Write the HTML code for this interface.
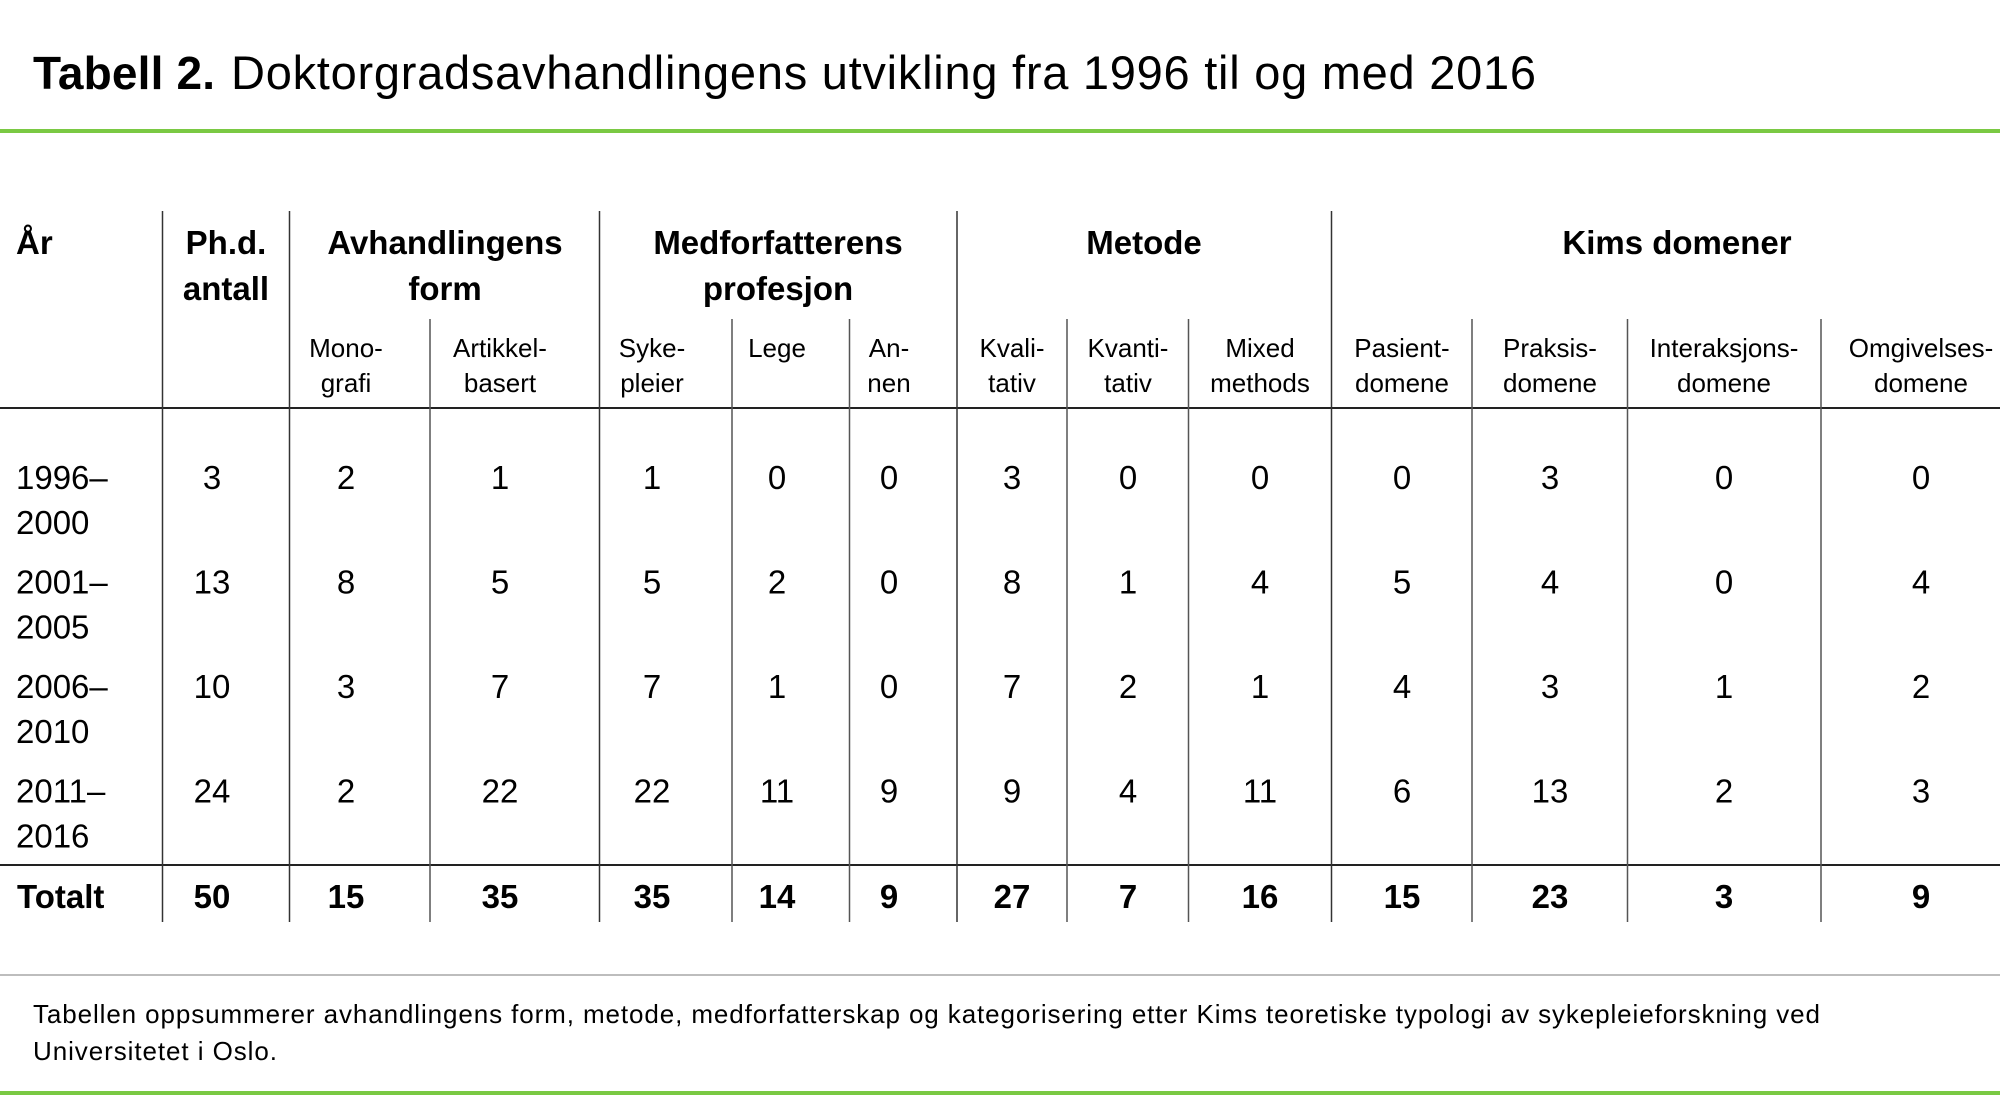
<!DOCTYPE html>
<html>
<head>
<meta charset="utf-8">
<style>
  html,body{margin:0;padding:0;background:#fff;}
  svg{display:block;}
  text{font-family:"Liberation Sans",Arial,sans-serif;fill:#000;}
  .h{font-size:33px;font-weight:bold;}
  .s{font-size:26px;}
  .d{font-size:33px;}
  .t{font-size:33px;font-weight:bold;}
</style>
</head>
<body>
<svg width="2000" height="1110" viewBox="0 0 2000 1110" xmlns="http://www.w3.org/2000/svg">
  <rect x="0" y="0" width="2000" height="1110" fill="#fff"/>

  <!-- Title -->
  <text x="33" y="89" font-size="46" font-weight="bold" textLength="182">Tabell 2.</text>
  <text x="231" y="89" font-size="47" textLength="1305">Doktorgradsavhandlingens utvikling fra 1996 til og med 2016</text>

  <!-- green rules -->
  <rect x="0" y="129" width="2000" height="4" fill="#7ac943"/>
  <rect x="0" y="1091" width="2000" height="4" fill="#7ac943"/>

  <!-- grey rule -->
  <rect x="0" y="974" width="2000" height="2" fill="#bdbdbd"/>

  <!-- horizontal table rules -->
  <rect x="0" y="407" width="2000" height="2" fill="#222"/>
  <rect x="0" y="864" width="2000" height="2" fill="#222"/>

  <!-- vertical lines: group (full height) -->
  <g stroke="#333" stroke-width="1.5">
    <line x1="162.5" y1="211" x2="162.5" y2="922"/>
    <line x1="289.5" y1="211" x2="289.5" y2="922"/>
    <line x1="599.5" y1="211" x2="599.5" y2="922"/>
    <line x1="957" y1="211" x2="957" y2="922"/>
    <line x1="1331.5" y1="211" x2="1331.5" y2="922"/>
  </g>
  <g stroke="#555" stroke-width="1.5">
    <line x1="430" y1="319" x2="430" y2="922"/>
    <line x1="732" y1="319" x2="732" y2="922"/>
    <line x1="849.5" y1="319" x2="849.5" y2="922"/>
    <line x1="1067" y1="319" x2="1067" y2="922"/>
    <line x1="1188.5" y1="319" x2="1188.5" y2="922"/>
    <line x1="1472" y1="319" x2="1472" y2="922"/>
    <line x1="1627.5" y1="319" x2="1627.5" y2="922"/>
    <line x1="1821" y1="319" x2="1821" y2="922"/>
  </g>

  <!-- Top headers -->
  <text class="h" x="16" y="254">År</text>
  <g class="h" text-anchor="middle">
    <text x="226" y="254">Ph.d.</text>
    <text x="226" y="300">antall</text>
    <text x="445" y="254">Avhandlingens</text>
    <text x="445" y="300">form</text>
    <text x="778" y="254">Medforfatterens</text>
    <text x="778" y="300">profesjon</text>
    <text x="1144" y="254">Metode</text>
    <text x="1677" y="254">Kims domener</text>
  </g>

  <!-- Sub headers -->
  <g class="s" text-anchor="middle">
    <text x="346" y="357">Mono-</text><text x="346" y="392">grafi</text>
    <text x="500" y="357">Artikkel-</text><text x="500" y="392">basert</text>
    <text x="652" y="357">Syke-</text><text x="652" y="392">pleier</text>
    <text x="777" y="357">Lege</text>
    <text x="889" y="357">An-</text><text x="889" y="392">nen</text>
    <text x="1012" y="357">Kvali-</text><text x="1012" y="392">tativ</text>
    <text x="1128" y="357">Kvanti-</text><text x="1128" y="392">tativ</text>
    <text x="1260" y="357">Mixed</text><text x="1260" y="392">methods</text>
    <text x="1402" y="357">Pasient-</text><text x="1402" y="392">domene</text>
    <text x="1550" y="357">Praksis-</text><text x="1550" y="392">domene</text>
    <text x="1724" y="357">Interaksjons-</text><text x="1724" y="392">domene</text>
    <text x="1921" y="357">Omgivelses-</text><text x="1921" y="392">domene</text>
  </g>

  <!-- Year labels -->
  <g class="d">
    <text x="16" y="489">1996–</text><text x="16" y="534">2000</text>
    <text x="16" y="593.5">2001–</text><text x="16" y="638.5">2005</text>
    <text x="16" y="698">2006–</text><text x="16" y="743">2010</text>
    <text x="16" y="802.5">2011–</text><text x="16" y="847.5">2016</text>
  </g>
  <text class="t" x="17" y="908">Totalt</text>

  <!-- Data -->
  <g class="d" text-anchor="middle">
    <text x="212" y="489">3</text><text x="346" y="489">2</text><text x="500" y="489">1</text>
    <text x="652" y="489">1</text><text x="777" y="489">0</text><text x="889" y="489">0</text>
    <text x="1012" y="489">3</text><text x="1128" y="489">0</text><text x="1260" y="489">0</text>
    <text x="1402" y="489">0</text><text x="1550" y="489">3</text><text x="1724" y="489">0</text>
    <text x="1921" y="489">0</text>

    <text x="212" y="593.5">13</text><text x="346" y="593.5">8</text><text x="500" y="593.5">5</text>
    <text x="652" y="593.5">5</text><text x="777" y="593.5">2</text><text x="889" y="593.5">0</text>
    <text x="1012" y="593.5">8</text><text x="1128" y="593.5">1</text><text x="1260" y="593.5">4</text>
    <text x="1402" y="593.5">5</text><text x="1550" y="593.5">4</text><text x="1724" y="593.5">0</text>
    <text x="1921" y="593.5">4</text>

    <text x="212" y="698">10</text><text x="346" y="698">3</text><text x="500" y="698">7</text>
    <text x="652" y="698">7</text><text x="777" y="698">1</text><text x="889" y="698">0</text>
    <text x="1012" y="698">7</text><text x="1128" y="698">2</text><text x="1260" y="698">1</text>
    <text x="1402" y="698">4</text><text x="1550" y="698">3</text><text x="1724" y="698">1</text>
    <text x="1921" y="698">2</text>

    <text x="212" y="802.5">24</text><text x="346" y="802.5">2</text><text x="500" y="802.5">22</text>
    <text x="652" y="802.5">22</text><text x="777" y="802.5">11</text><text x="889" y="802.5">9</text>
    <text x="1012" y="802.5">9</text><text x="1128" y="802.5">4</text><text x="1260" y="802.5">11</text>
    <text x="1402" y="802.5">6</text><text x="1550" y="802.5">13</text><text x="1724" y="802.5">2</text>
    <text x="1921" y="802.5">3</text>
  </g>
  <!-- Totals -->
  <g class="t" text-anchor="middle">
    <text x="212" y="908">50</text><text x="346" y="908">15</text><text x="500" y="908">35</text>
    <text x="652" y="908">35</text><text x="777" y="908">14</text><text x="889" y="908">9</text>
    <text x="1012" y="908">27</text><text x="1128" y="908">7</text><text x="1260" y="908">16</text>
    <text x="1402" y="908">15</text><text x="1550" y="908">23</text><text x="1724" y="908">3</text>
    <text x="1921" y="908">9</text>
  </g>

  <!-- Footnote -->
  <text x="33" y="1023" font-size="26" textLength="1787">Tabellen oppsummerer avhandlingens form, metode, medforfatterskap og kategorisering etter Kims teoretiske typologi av sykepleieforskning ved</text>
  <text x="33" y="1060" font-size="26" textLength="244">Universitetet i Oslo.</text>
</svg>
</body>
</html>
